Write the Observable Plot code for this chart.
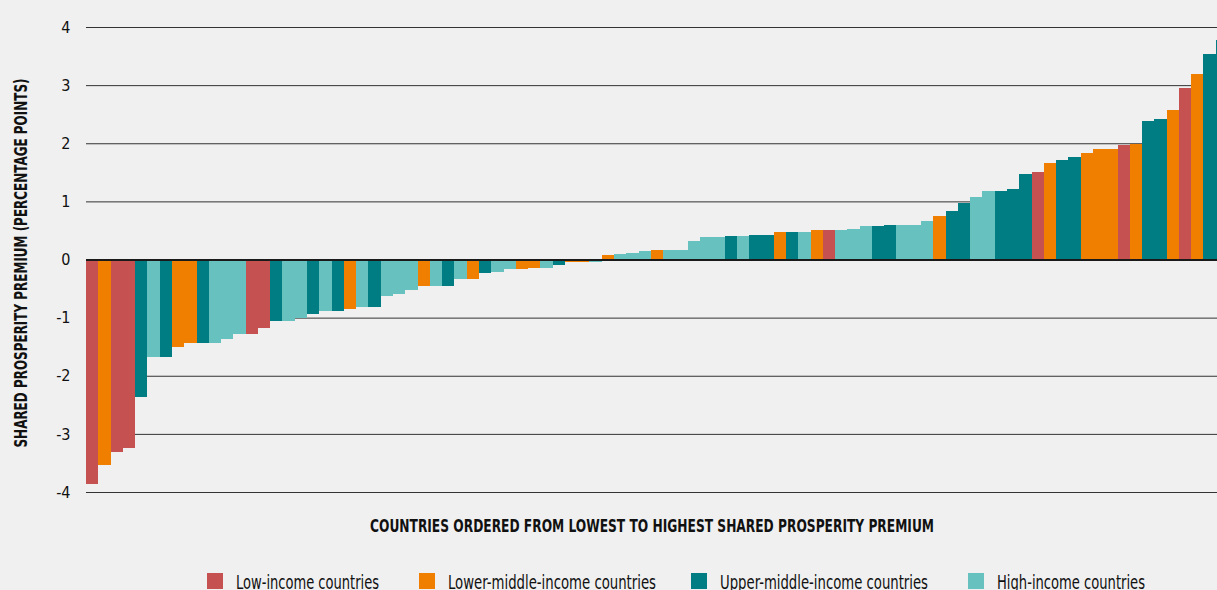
<!DOCTYPE html>
<html>
<head>
<meta charset="utf-8">
<script src="https://cdn.jsdelivr.net/npm/d3@7"></script>
<script src="https://cdn.jsdelivr.net/npm/@observablehq/plot@0.6"></script>
<style>
  html, body { margin: 0; padding: 0; background: #f0f0f0; overflow: hidden; width: 1217px; height: 590px; }
  #chart svg { display: block; overflow: hidden; }
  #legend { position: relative; height: 45px; font-family: "DejaVu Sans Condensed", "DejaVu Sans", sans-serif; font-stretch: condensed; color: #111; }
  .sw { position: absolute; top: 28px; width: 16px; height: 16px; }
  .lt { position: absolute; top: 27px; font-size: 20px; line-height: 20px; white-space: nowrap; transform-origin: 0 0; }
</style>
</head>
<body>
<div id="chart"></div>
<div id="legend"></div>
<script>
// ---- data ----
const groupCodes = ["L", "LM", "UM", "H"];
const groupNames = ["Low-income countries", "Lower-middle-income countries", "Upper-middle-income countries", "High-income countries"];
const groupColors = ["#c55251", "#f07f00", "#007d82", "#67c1be"];

// countries ordered from lowest to highest premium (percentage points)
const premium = [
  -3.86, -3.53, -3.31, -3.24, -2.37, -1.68, -1.68, -1.51, -1.44, -1.44,
  -1.44, -1.36, -1.29, -1.29, -1.18, -1.05, -1.05, -1.01, -0.93, -0.89,
  -0.89, -0.86, -0.82, -0.82, -0.62, -0.60, -0.53, -0.46, -0.46, -0.46,
  -0.33, -0.33, -0.24, -0.21, -0.17, -0.17, -0.14, -0.14, -0.10, -0.04,
  -0.04, -0.04, 0.07, 0.10, 0.11, 0.14, 0.17, 0.17, 0.17, 0.31,
  0.38, 0.38, 0.40, 0.40, 0.43, 0.43, 0.47, 0.47, 0.47, 0.50,
  0.50, 0.50, 0.53, 0.57, 0.57, 0.60, 0.60, 0.60, 0.67, 0.74,
  0.83, 0.97, 1.07, 1.17, 1.17, 1.22, 1.47, 1.50, 1.66, 1.72,
  1.76, 1.83, 1.90, 1.90, 1.97, 1.98, 2.38, 2.41, 2.58, 2.95,
  3.20, 3.53, 3.77
];
const incomeGroup = [
  "L", "LM", "L", "L", "UM", "H", "UM", "LM", "LM", "UM",
  "H", "H", "H", "L", "L", "UM", "H", "H", "UM", "H",
  "UM", "LM", "H", "UM", "H", "H", "H", "LM", "H", "UM",
  "H", "LM", "UM", "H", "H", "LM", "LM", "H", "UM", "LM",
  "LM", "H", "LM", "H", "H", "H", "LM", "H", "H", "H",
  "H", "H", "UM", "H", "UM", "UM", "LM", "UM", "H", "LM",
  "L", "H", "H", "H", "UM", "UM", "H", "H", "H", "LM",
  "UM", "UM", "H", "H", "UM", "UM", "UM", "L", "LM", "UM",
  "UM", "LM", "LM", "LM", "L", "LM", "UM", "UM", "LM", "L",
  "LM", "UM", "UM"
];
const yTicks = [-4, -3, -2, -1, 0, 1, 2, 3, 4];
const yTitle = "SHARED PROSPERITY PREMIUM (PERCENTAGE POINTS)";
const xTitle = "COUNTRIES ORDERED FROM LOWEST TO HIGHEST SHARED PROSPERITY PREMIUM";

const data = premium.map((v, i) => ({
  rank: i + 1,
  value: v,
  group: groupNames[groupCodes.indexOf(incomeGroup[i])]
}));

// ---- layout ----
const W = 1217, H = 545, ML = 86, MT = 27, MB = 53;
const step = 12.28;
const font = "'DejaVu Sans Condensed', 'DejaVu Sans', sans-serif";

const plot = Plot.plot({
  width: W,
  height: H,
  marginLeft: ML,
  marginRight: 0,
  marginTop: MT,
  marginBottom: MB,
  style: { background: "transparent", fontFamily: font, fontSize: "16px", color: "#111", overflow: "hidden", fontStretch: "condensed" },
  x: { type: "band", domain: data.map(d => d.rank), range: [ML, ML + premium.length * step], padding: 0, round: false, axis: null },
  y: { domain: [-4, 4], ticks: yTicks, tickSize: 0, tickPadding: 16, tickFormat: d => String(d), label: null },
  color: { domain: groupNames, range: groupColors },
  marks: [
    Plot.ruleY(yTicks.filter(d => d !== 0), { stroke: "#333", strokeWidth: 1 }),
    Plot.barY(data, { x: "rank", y: "value", fill: "group", shapeRendering: "crispEdges" }),
    Plot.ruleY([0], { stroke: "#1a1a1a", strokeWidth: 2 }),
    Plot.text([yTitle], { text: d => d, frameAnchor: "left", textAnchor: "middle", dx: -65, dy: 3, rotate: -90, fontWeight: "bold", fontSize: 17, fill: "#111" }),
    Plot.text([xTitle], { text: d => d, frameAnchor: "bottom", textAnchor: "middle", dy: 39, fontWeight: "bold", fontSize: 17, fill: "#111" })
  ]
});
document.getElementById("chart").appendChild(plot);

d3.select(plot).selectAll("text").each(function () {
  const t = this.textContent;
  if (t === yTitle) d3.select(this).attr("textLength", 369).attr("lengthAdjust", "spacingAndGlyphs");
  if (t === xTitle) d3.select(this).attr("textLength", 564).attr("lengthAdjust", "spacingAndGlyphs");
});

// ---- legend ----
const legendX = [207, 419, 691, 968];
const legendTextW = [143, 208, 208, 148];
const legend = document.getElementById("legend");
groupNames.forEach((name, i) => {
  const sw = document.createElement("div");
  sw.className = "sw";
  sw.style.left = legendX[i] + "px";
  sw.style.background = groupColors[i];
  legend.appendChild(sw);
  const tx = document.createElement("span");
  tx.className = "lt";
  tx.style.left = (legendX[i] + 29) + "px";
  tx.textContent = name;
  legend.appendChild(tx);
  const w = tx.getBoundingClientRect().width;
  tx.style.transform = `scaleX(${legendTextW[i] / w})`;
});
</script>
</body>
</html>
